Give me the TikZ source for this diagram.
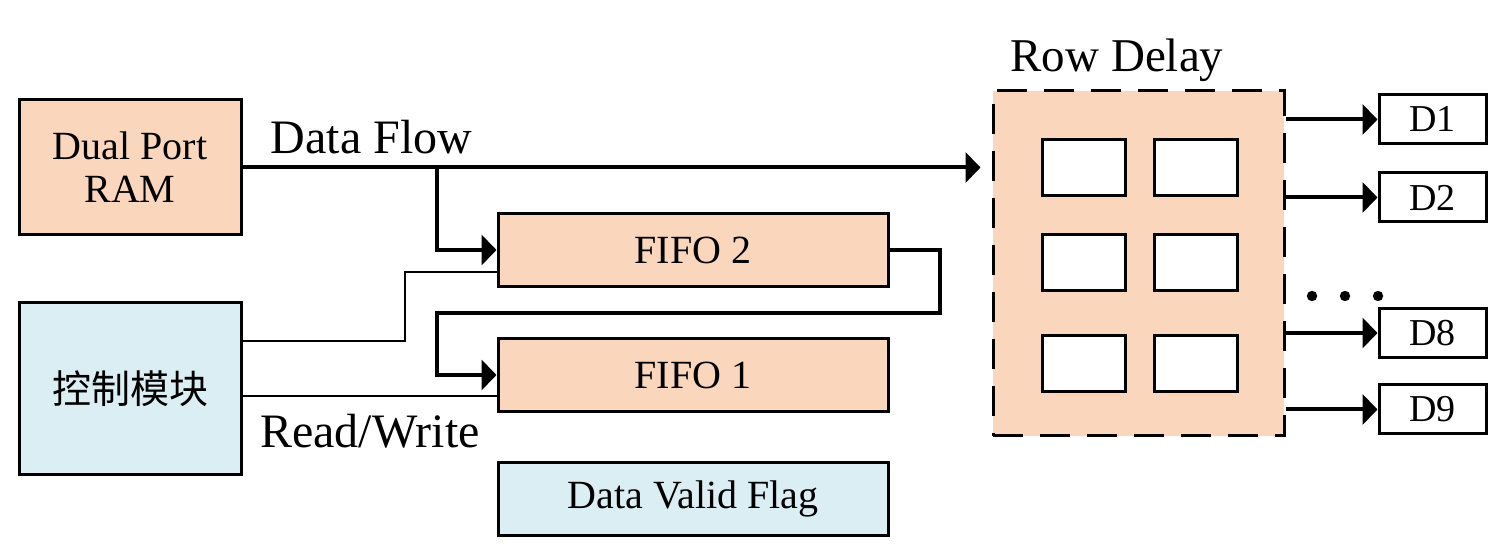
\documentclass[tikz,border=0pt]{standalone}
\usepackage{fontspec}
\setmainfont{Liberation Serif}
\newfontfamily\cjkfont{Noto Sans CJK SC}
\usetikzlibrary{arrows.meta}
\definecolor{peach}{HTML}{FAD7BC}
\definecolor{paleblue}{HTML}{DBEEF4}

\begin{document}
\begin{tikzpicture}
[x=0.5pt,y=-0.5pt,
  boxDecorate/.style={shape=rectangle,draw,line width=1.5pt,inner sep=0pt,font=\fontsize{20}{21.5}\selectfont},%
  peachBox/.style={boxDecorate,fill=peach},%
  blueBox/.style={boxDecorate,fill=paleblue},%
  cellDecorate/.style={shape=rectangle,draw,line width=1.5pt,fill=white,minimum width=41.5pt,minimum height=28pt},%
  outDecorate/.style={boxDecorate,fill=white,minimum width=53.5pt,minimum height=24.5pt,font=\fontsize{19}{21}\selectfont},%
  dataLine/.style={line width=2pt,-{Triangle[length=7.5pt,width=15pt]}},%
  ctrlLine/.style={line width=1pt},%
  labelDecorate/.style={anchor=base,inner sep=0pt,font=\fontsize{24}{28}\selectfont}]
\useasboundingbox (0,0) rectangle (1503,544);
%% blocks
\node (ram) at (130,167.5) [peachBox,minimum width=111pt,minimum height=67.5pt,align=center] {Dual Port\\RAM};
\node (ctrl) at (130,389) [blueBox,minimum width=111pt,minimum height=86pt,font=\cjkfont\fontsize{19.5}{23}\selectfont] {控制模块};
\foreach \nodename/\y/\txt in {fifo2/250/FIFO 2, fifo1/375/FIFO 1}
{
  \node (\nodename) at (693,\y) [peachBox,minimum width=195pt,minimum height=36.5pt] {\txt};
}
\node (flag) at (693,499) [blueBox,minimum width=195pt,minimum height=36pt] {Data Valid Flag};
\node (delay) at (1138.5,263.5) [peachBox,dash pattern=on 15pt off 8.5pt,minimum width=145.5pt,minimum height=172.5pt] {};
%% delay cells
\foreach \col/\x in {1/1083.5, 2/1195.5}
{
  \foreach \row/\y in {1/168, 2/262.5, 3/364}
  {
    \node (cell\row\col) at (\x,\y) [cellDecorate] {};
  }
}
%% outputs
\foreach \nodename/\y in {1/119.5, 2/197.5, 8/333, 9/409.5}
{
  \node (d\nodename) at (1432.5,\y) [outDecorate] {D\nodename};
}
\foreach \x in {1312, 1345, 1378}
{
  \fill (\x,296) circle (2.6pt);
}
%% labels
\node (flowlabel) at (371.5,154) [labelDecorate] {Data Flow};
\node (rwlabel) at (370,448) [labelDecorate] {Read/Write};
\node (delaylabel) at (1117,72) [labelDecorate,font=\fontsize{23.5}{27}\selectfont] {Row Delay};
%% data lines
\draw[dataLine,shorten >=5.5pt] (ram.east) -- (ram.east -| delay.west);
\draw[dataLine] (ram.east -| 437,0) |- (fifo2.west);
\draw[dataLine] (fifo2.east) -| (940,313) -| (437,375) -- (fifo1.west);
\path
\foreach \nodename in {1, 2, 8, 9}
{
  (d\nodename.west -| delay.east) edge[dataLine] (d\nodename.west)
};
%% control lines
\draw[ctrlLine] (ctrl.east |- 0,341) -| (405,272) -- (fifo2.west |- 0,272);
\draw[ctrlLine] (ctrl.east |- 0,396) -- (fifo1.west |- 0,396);
\end{tikzpicture}
\end{document}
